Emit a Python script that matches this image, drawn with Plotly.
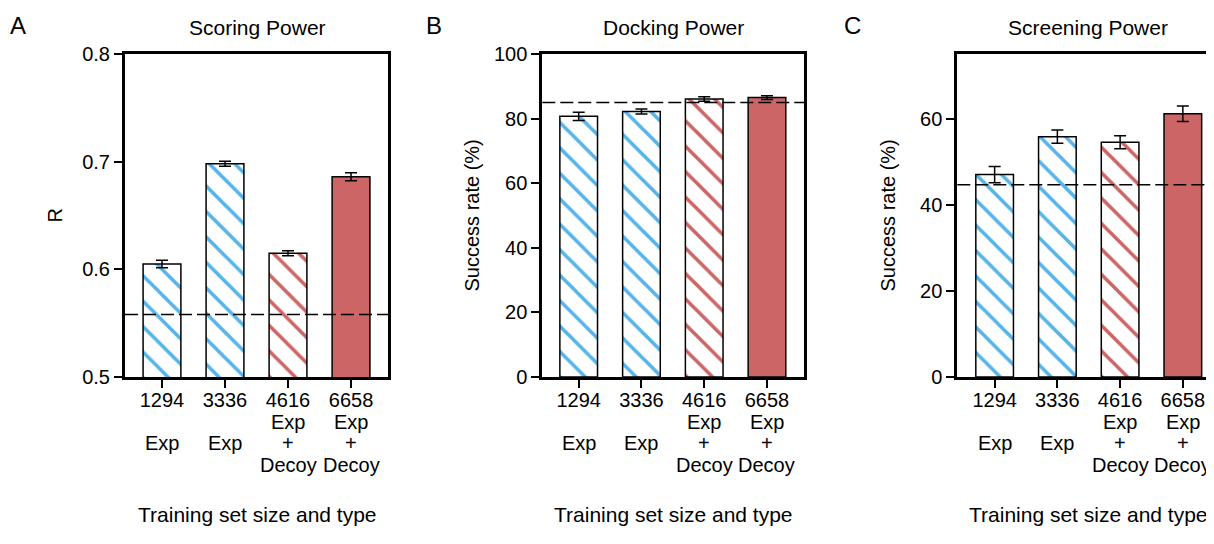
import plotly.graph_objects as go

# ---- data ----
sizes = ["1294", "3336", "4616", "6658"]
set_types = [["", "Exp"], ["", "Exp"], ["Exp", "+", "Decoy"], ["Exp", "+", "Decoy"]]
scoring_r = [0.605, 0.698, 0.615, 0.686]
scoring_err = [0.0035, 0.0023, 0.0023, 0.0037]
scoring_ref = 0.558
docking_sr = [80.7, 82.2, 86.1, 86.5]
docking_err = [1.3, 0.8, 0.7, 0.6]
docking_ref = 85.0
screening_sr = [47.0, 55.8, 54.5, 61.1]
screening_err = [1.9, 1.55, 1.5, 1.8]
screening_ref = 44.65

BLUE = "#56B4E9"
RED = "#CC6666"
# bar groups: (indices, fill colour, hatch shape, hatch colour)
styles = [
    ([0, 1], "white", "\\", BLUE),   # experimental data only
    ([2], "white", "\\", RED),       # exp + decoy, hatched
    ([3], RED, "", RED),             # exp + decoy, solid
]

W, H = 1214, 544
OFF = 8  # page body margin
FONT = "Liberation Sans, Arial, Helvetica, sans-serif"
FS = 20


def fx(v):
    return (v - OFF) / W


def fy(v):
    return 1 - (v - OFF) / H


fig = go.Figure()
xpos = list(range(len(sizes)))

panels = [
    dict(vals=scoring_r, err=scoring_err, ref=scoring_ref, title="Scoring Power", letter="A",
         ylab="R", yrange=[0.5, 0.8], ytick=[0.5, 0.6, 0.7, 0.8], ytext=["0.5", "0.6", "0.7", "0.8"],
         px=(125, 388), xr=[-0.587, 3.587], mirror=True, letx=18, ylabx=55, tx=257),
    dict(vals=docking_sr, err=docking_err, ref=docking_ref, title="Docking Power", letter="B",
         ylab="Success rate (%)", yrange=[0, 100], ytick=[0, 20, 40, 60, 80, 100],
         ytext=["0", "20", "40", "60", "80", "100"],
         px=(542.3, 804), xr=[-0.58, 3.59], mirror=True, letx=434, ylabx=472, tx=673),
    dict(vals=screening_sr, err=screening_err, ref=screening_ref, title="Screening Power", letter="C",
         ylab="Success rate (%)", yrange=[0, 75], ytick=[0, 20, 40, 60],
         ytext=["0", "20", "40", "60"],
         px=(957.3, 1222), xr=[-0.595, 3.624], mirror=False, letx=852, ylabx=888, tx=1088),
]

ytop, ybot = 54, 377
ydom = [fy(ybot), fy(ytop)]
annotations = []
shapes = []
tf = dict(size=FS, color="black", family=FONT)
titlef = dict(size=21, color="black", family=FONT)

for i, p in enumerate(panels, start=1):
    xa = "x" if i == 1 else f"x{i}"
    ya = "y" if i == 1 else f"y{i}"
    for idx, fill, shp, fg in styles:
        fig.add_trace(go.Bar(
            x=[xpos[k] for k in idx], y=[p["vals"][k] for k in idx], width=0.6,
            xaxis=xa, yaxis=ya,
            marker=dict(color=fill, line=dict(color="black", width=1.5),
                        pattern=dict(shape=shp, fgcolor=fg, bgcolor=fill, fgopacity=1,
                                     size=18, solidity=0.2, fillmode="overlay")),
            error_y=dict(type="data", array=[p["err"][k] for k in idx], visible=True,
                         color="black", thickness=1.5, width=6),
            showlegend=False, hoverinfo="skip",
        ))
    dom = [fx(p["px"][0]), min(1.0, fx(p["px"][1]))]
    xkey = "xaxis" if i == 1 else f"xaxis{i}"
    ykey = "yaxis" if i == 1 else f"yaxis{i}"
    fig.update_layout(**{
        xkey: dict(domain=dom, anchor=ya, range=p["xr"], tickmode="array", tickvals=xpos,
                   ticktext=sizes, showline=True, linecolor="black", linewidth=3,
                   mirror=True, ticks="outside", ticklen=8, tickwidth=2, tickcolor="black",
                   ticklabelstandoff=-5,
                   showgrid=False, zeroline=False, automargin=False, tickfont=tf),
        ykey: dict(domain=ydom, anchor=xa, range=p["yrange"], tickmode="array", tickvals=p["ytick"],
                   ticktext=p["ytext"], showline=True, linecolor="black", linewidth=3,
                   mirror=p["mirror"], ticks="outside", ticklen=8, tickwidth=2, tickcolor="black",
                   showgrid=False, zeroline=False, automargin=False, tickfont=tf),
    })
    shapes.append(dict(type="line", xref=f"{xa} domain", yref=ya, x0=0, x1=1, y0=p["ref"], y1=p["ref"],
                       line=dict(color="black", width=1.5, dash="13px,5px"), layer="above"))
    # extra category label lines (set type) under the size tick labels
    for k, lines in enumerate(set_types):
        for j, txt in enumerate(lines):
            if not txt:
                continue
            annotations.append(dict(text=txt, x=xpos[k], xref=xa, y=fy(421.5 + 21.5 * j), yref="paper",
                                    showarrow=False, xanchor="center", yanchor="middle", font=tf))
    annotations.append(dict(text=p["title"], x=fx(p["tx"]), y=fy(28), xref="paper", yref="paper",
                            showarrow=False, xanchor="center", yanchor="middle", font=titlef))
    annotations.append(dict(text=p["letter"], x=fx(p["letx"]), y=fy(25), xref="paper", yref="paper",
                            showarrow=False, xanchor="center", yanchor="middle",
                            font=dict(size=24, color="black", family=FONT)))
    annotations.append(dict(text=p["ylab"], x=fx(p["ylabx"]), y=fy(215.5), xref="paper", yref="paper",
                            showarrow=False, xanchor="center", yanchor="middle", textangle=-90, font=tf))
    annotations.append(dict(text="Training set size and type", x=fx(p["tx"]), y=fy(514),
                            xref="paper", yref="paper", showarrow=False, xanchor="center",
                            yanchor="middle", font=titlef))

fig.update_layout(template="none", width=W, height=H, margin=dict(l=0, r=0, t=0, b=0, pad=0),
                  paper_bgcolor="white", plot_bgcolor="white", barmode="overlay",
                  font=dict(family=FONT, size=FS, color="black"),
                  annotations=annotations, shapes=shapes)

fig.write_html("out.html")
